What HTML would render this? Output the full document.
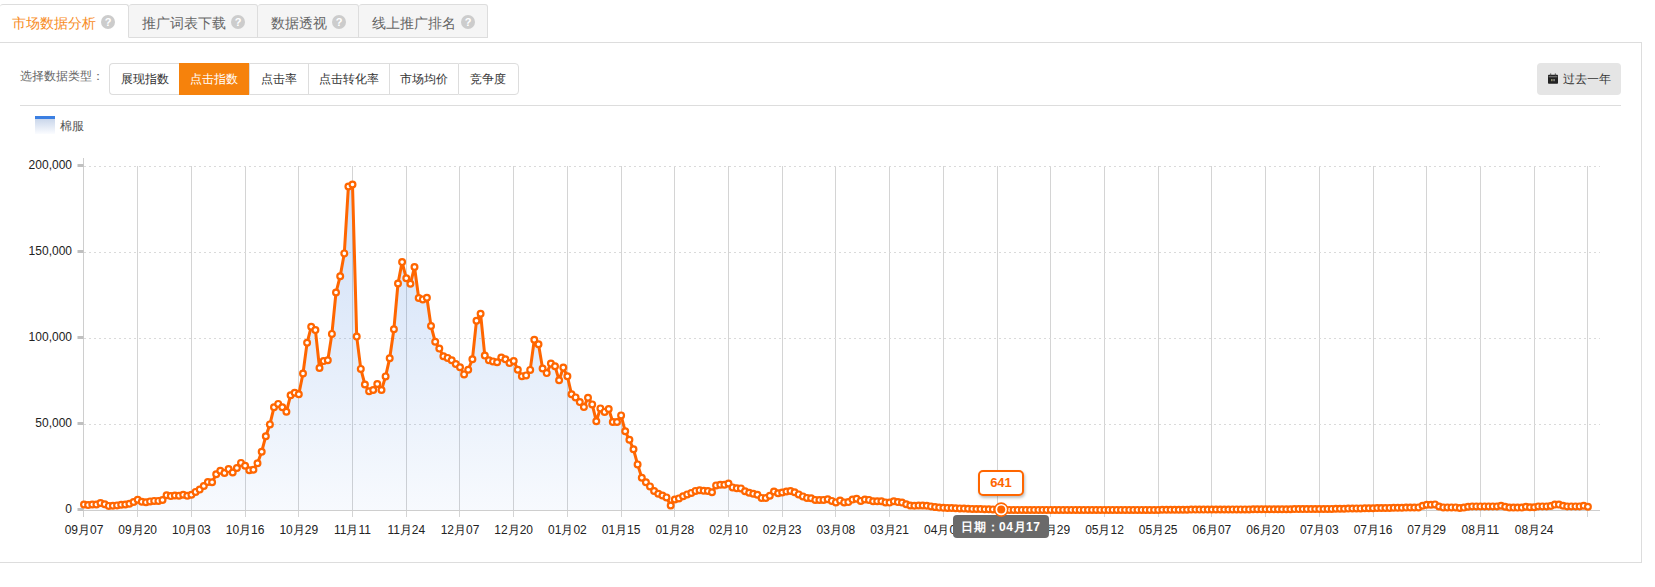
<!DOCTYPE html>
<html lang="zh">
<head>
<meta charset="utf-8">
<title>市场数据分析</title>
<style>
html,body{margin:0;padding:0;background:#fff;}
body{width:1655px;height:587px;position:relative;overflow:hidden;font-family:"Liberation Sans",sans-serif;color:#333;}
.tabs{position:absolute;left:0;top:4px;height:34px;display:flex;}
.tab{box-sizing:border-box;height:34px;border:1px solid #ddd;border-left:none;background:#f5f5f5;color:#666;font-size:14px;line-height:32px;padding:3px 12px 0 13px;display:flex;align-items:center;white-space:nowrap;border-radius:3px 3px 0 0;}
.tab.on{background:#fff;color:#f78c1e;border-bottom-color:#fff;padding-left:12px;padding-right:13px;}
.tab span.t{display:inline-block;}
.q{display:inline-block;width:14px;height:14px;border-radius:50%;background:#ccc;color:#fff;font-size:11px;font-weight:bold;line-height:15px;text-align:center;margin-left:5px;position:relative;top:-1px;}
.panel{position:absolute;left:-1px;top:42px;width:1641px;height:519px;border:1px solid #ddd;box-sizing:content-box;}
.lbl{position:absolute;left:20px;top:68px;font-size:12px;color:#666;line-height:16px;}
.grp{position:absolute;left:109px;top:63px;height:32px;display:flex;}
.grp div{box-sizing:border-box;height:32px;font-size:12px;line-height:30px;text-align:center;border:1px solid #ddd;border-right:none;color:#333;white-space:nowrap;background:#fff;}
.grp div:first-child{border-radius:4px 0 0 4px;}
.grp div:last-child{border-right:1px solid #ddd;border-radius:0 4px 4px 0;}
.grp div.on{background:#f6820c;color:#fff;border-color:#f6820c;}
.year{position:absolute;left:1537px;top:63px;width:84px;height:32px;background:#e5e5e5;border-radius:4px;font-size:12px;line-height:32px;color:#333;}
.year svg{position:absolute;left:11px;top:10px;}
.year span{position:absolute;left:26px;top:0;}
.hr{position:absolute;left:20px;top:105px;width:1601px;height:1px;background:#ddd;}
.legbox{position:absolute;left:35px;top:116px;width:20px;height:15px;border-top:3px solid #3b7fe2;background:linear-gradient(#cad7eb,#fbfcff);}
.legtxt{position:absolute;left:60px;top:118px;font-size:12px;line-height:16px;color:#555;}
svg.chart{position:absolute;left:0;top:0;}
.tip1{position:absolute;left:978px;top:470px;width:42px;height:22px;border:2px solid #f60;border-radius:5px;background:#fff;color:#f60;font-weight:bold;font-size:13px;line-height:22px;text-align:center;box-shadow:1px 2px 3px rgba(0,0,0,.25);}
.tip2{position:absolute;left:953px;top:515px;width:96px;height:23px;border-radius:4px;background:#6a6a6a;color:#fff;font-weight:bold;font-size:12px;line-height:25px;text-align:center;white-space:nowrap;letter-spacing:0.55px;}
</style>
</head>
<body>
<div class="panel"></div>
<div class="tabs">
  <div class="tab on"><span class="t">市场数据分析</span><span class="q">?</span></div>
  <div class="tab"><span class="t">推广词表下载</span><span class="q">?</span></div>
  <div class="tab"><span class="t">数据透视</span><span class="q">?</span></div>
  <div class="tab"><span class="t">线上推广排名</span><span class="q">?</span></div>
</div>
<div class="lbl">选择数据类型：</div>
<div class="grp"><div style="width:70px">展现指数</div><div class="on" style="width:69.5px">点击指数</div><div style="width:59.5px">点击率</div><div style="width:81px">点击转化率</div><div style="width:69px">市场均价</div><div style="width:60.5px">竞争度</div></div>
<div class="year"><svg width="10" height="11" viewBox="0 0 10 11"><rect x="0" y="1.8" width="10" height="9" rx="0.8" fill="#222"/><rect x="2.2" y="0.4" width="1" height="2" fill="#555"/><rect x="6.8" y="0.4" width="1" height="2" fill="#555"/><rect x="0.6" y="3.4" width="8.8" height="0.8" fill="#999"/><rect x="3" y="6" width="1.6" height="2.2" fill="#8a8a6a"/><rect x="5.2" y="6" width="1.8" height="2.2" fill="#777"/></svg><span>过去一年</span></div>
<div class="hr"></div>
<div class="legbox"></div><div class="legtxt">棉服</div>

<svg class="chart" width="1655" height="587" viewBox="0 0 1655 587">
<defs><linearGradient id="ag" x1="0" y1="166" x2="0" y2="510" gradientUnits="userSpaceOnUse"><stop offset="0" stop-color="#3f7fdf" stop-opacity="0.26"/><stop offset="1" stop-color="#3f7fdf" stop-opacity="0.04"/></linearGradient></defs>
<g stroke="#d4d4d4" stroke-width="1" fill="none"><path d="M137.5 166 V517"/><path d="M191.5 166 V517"/><path d="M245.5 166 V517"/><path d="M298.5 166 V517"/><path d="M352.5 166 V517"/><path d="M406.5 166 V517"/><path d="M459.5 166 V517"/><path d="M513.5 166 V517"/><path d="M567.5 166 V517"/><path d="M621.5 166 V517"/><path d="M674.5 166 V517"/><path d="M728.5 166 V517"/><path d="M782.5 166 V517"/><path d="M835.5 166 V517"/><path d="M889.5 166 V517"/><path d="M943.5 166 V517"/><path d="M997.5 166 V517"/><path d="M1050.5 166 V517"/><path d="M1104.5 166 V517"/><path d="M1158.5 166 V517"/><path d="M1211.5 166 V517"/><path d="M1265.5 166 V517"/><path d="M1319.5 166 V517"/><path d="M1373.5 166 V517"/><path d="M1426.5 166 V517"/><path d="M1480.5 166 V517"/><path d="M1534.5 166 V517"/><path d="M1587.5 166 V517"/></g>
<g stroke="#dadada" stroke-width="1" stroke-dasharray="2 3" fill="none"><path d="M84 166.5 H1600"/><path d="M84 252.5 H1600"/><path d="M84 338.5 H1600"/><path d="M84 424.5 H1600"/></g>
<path d="M83.5 158 V517" stroke="#cecece" stroke-width="1" fill="none"/>
<path d="M83 510.5 H1600" stroke="#cecece" stroke-width="1" fill="none"/>
<g fill="#c0c0c0"><rect x="77.5" y="164" width="6" height="3"/><rect x="77.5" y="250" width="6" height="3"/><rect x="77.5" y="336" width="6" height="3"/><rect x="77.5" y="422" width="6" height="3"/><rect x="77.5" y="508" width="6" height="3"/></g>
<g font-family="Liberation Sans, sans-serif" font-size="12" fill="#222" text-anchor="end"><text x="72" y="169">200,000</text><text x="72" y="255">150,000</text><text x="72" y="341">100,000</text><text x="72" y="427">50,000</text><text x="72" y="513">0</text></g>
<g font-family="Liberation Sans, sans-serif" font-size="12" fill="#222" text-anchor="middle"><text x="84.0" y="534">09月07</text><text x="137.7" y="534">09月20</text><text x="191.4" y="534">10月03</text><text x="245.1" y="534">10月16</text><text x="298.8" y="534">10月29</text><text x="352.5" y="534">11月11</text><text x="406.3" y="534">11月24</text><text x="460.0" y="534">12月07</text><text x="513.7" y="534">12月20</text><text x="567.4" y="534">01月02</text><text x="621.1" y="534">01月15</text><text x="674.8" y="534">01月28</text><text x="728.5" y="534">02月10</text><text x="782.2" y="534">02月23</text><text x="835.9" y="534">03月08</text><text x="889.6" y="534">03月21</text><text x="943.4" y="534">04月03</text><text x="997.1" y="534">04月16</text><text x="1050.8" y="534">04月29</text><text x="1104.5" y="534">05月12</text><text x="1158.2" y="534">05月25</text><text x="1211.9" y="534">06月07</text><text x="1265.6" y="534">06月20</text><text x="1319.3" y="534">07月03</text><text x="1373.0" y="534">07月16</text><text x="1426.7" y="534">07月29</text><text x="1480.4" y="534">08月11</text><text x="1534.2" y="534">08月24</text></g>
<path d="M84.0 504.5 L88.1 505.1 L92.3 504.5 L96.4 504.5 L100.5 503.1 L104.7 504.2 L108.8 505.9 L112.9 505.7 L117.1 505.4 L121.2 504.8 L125.3 504.5 L129.4 503.7 L133.6 502.0 L137.7 499.7 L141.8 501.7 L146.0 502.3 L150.1 501.4 L154.2 500.9 L158.4 500.9 L162.5 500.0 L166.6 495.3 L170.8 496.1 L174.9 495.5 L179.0 495.8 L183.2 494.7 L187.3 495.8 L191.4 494.7 L195.6 491.9 L199.7 489.6 L203.8 486.0 L207.9 482.0 L212.1 482.3 L216.2 474.2 L220.3 470.8 L224.5 473.0 L228.6 469.1 L232.7 472.5 L236.9 468.0 L241.0 462.9 L245.1 465.7 L249.3 470.2 L253.4 469.7 L257.5 463.2 L261.7 451.7 L265.8 436.2 L269.9 424.4 L274.0 407.3 L278.2 403.9 L282.3 407.2 L286.4 411.8 L290.6 395.2 L294.7 392.8 L298.8 394.3 L303.0 373.5 L307.1 342.8 L311.2 326.8 L315.4 330.1 L319.5 368.0 L323.6 361.1 L327.8 360.2 L331.9 333.9 L336.0 292.5 L340.2 276.2 L344.3 253.4 L348.4 186.5 L352.5 184.5 L356.7 336.6 L360.8 368.9 L364.9 384.5 L369.1 391.2 L373.2 390.0 L377.3 384.0 L381.5 390.0 L385.6 376.4 L389.7 358.2 L393.9 329.2 L398.0 283.5 L402.1 262.1 L406.3 278.3 L410.4 283.8 L414.5 267.0 L418.7 298.0 L422.8 299.4 L426.9 297.7 L431.0 326.0 L435.2 341.7 L439.3 348.6 L443.4 356.2 L447.6 357.9 L451.7 360.2 L455.8 364.0 L460.0 367.2 L464.1 374.4 L468.2 369.8 L472.4 359.3 L476.5 320.7 L480.6 313.8 L484.8 355.6 L488.9 360.2 L493.0 361.4 L497.1 362.2 L501.3 357.5 L505.4 359.2 L509.5 363.0 L513.7 361.0 L517.8 369.7 L521.9 376.3 L526.1 375.4 L530.2 369.9 L534.3 339.8 L538.5 344.2 L542.6 368.5 L546.7 373.1 L550.9 363.6 L555.0 366.2 L559.1 380.3 L563.3 367.6 L567.4 376.3 L571.5 394.2 L575.6 397.4 L579.8 402.1 L583.9 407.0 L588.0 397.7 L592.2 404.4 L596.3 421.2 L600.4 408.4 L604.6 411.9 L608.7 409.0 L612.8 422.0 L617.0 422.0 L621.1 415.4 L625.2 431.3 L629.4 439.8 L633.5 449.3 L637.6 464.4 L641.8 477.7 L645.9 482.3 L650.0 486.4 L654.1 491.0 L658.3 493.7 L662.4 495.5 L666.5 497.4 L670.7 505.5 L674.8 499.5 L678.9 498.4 L683.1 496.3 L687.2 494.4 L691.3 492.9 L695.5 490.9 L699.6 490.2 L703.7 490.8 L707.9 491.0 L712.0 492.2 L716.1 485.4 L720.3 484.8 L724.4 484.7 L728.5 483.5 L732.6 487.4 L736.8 488.3 L740.9 488.4 L745.0 491.2 L749.2 492.8 L753.3 493.8 L757.4 494.7 L761.6 497.9 L765.7 498.0 L769.8 495.7 L774.0 491.5 L778.1 493.2 L782.2 492.5 L786.4 491.5 L790.5 491.0 L794.6 492.3 L798.7 494.4 L802.9 496.4 L807.0 497.9 L811.1 498.3 L815.3 499.9 L819.4 500.0 L823.5 499.9 L827.7 499.2 L831.8 500.9 L835.9 502.4 L840.1 500.6 L844.2 502.4 L848.3 502.1 L852.5 499.6 L856.6 498.8 L860.7 500.9 L864.9 499.5 L869.0 499.9 L873.1 501.2 L877.2 501.3 L881.4 501.2 L885.5 502.4 L889.6 502.6 L893.8 501.3 L897.9 502.1 L902.0 502.6 L906.2 504.2 L910.3 505.5 L914.4 505.7 L918.6 505.5 L922.7 505.5 L926.8 505.7 L931.0 506.4 L935.1 507.1 L939.2 507.6 L943.4 507.7 L947.5 507.9 L951.6 508.0 L955.7 508.3 L959.9 508.4 L964.0 508.6 L968.1 508.8 L972.3 508.9 L976.4 509.0 L980.5 509.1 L984.7 509.2 L988.8 509.3 L992.9 509.4 L997.1 509.5 L1001.2 509.6 L1005.3 509.9 L1009.5 509.9 L1013.6 509.9 L1017.7 509.9 L1021.9 509.9 L1026.0 509.9 L1030.1 509.9 L1034.2 509.9 L1038.4 509.9 L1042.5 509.9 L1046.6 509.9 L1050.8 509.9 L1054.9 509.9 L1059.0 509.9 L1063.2 509.9 L1067.3 509.9 L1071.4 509.9 L1075.6 509.9 L1079.7 509.9 L1083.8 509.9 L1088.0 509.9 L1092.1 509.9 L1096.2 509.9 L1100.3 509.9 L1104.5 509.9 L1108.6 509.9 L1112.7 509.9 L1116.9 509.9 L1121.0 509.9 L1125.1 509.9 L1129.3 509.9 L1133.4 509.9 L1137.5 509.9 L1141.7 509.9 L1145.8 509.9 L1149.9 509.9 L1154.1 509.9 L1158.2 509.9 L1162.3 509.8 L1166.5 509.8 L1170.6 509.7 L1174.7 509.7 L1178.8 509.7 L1183.0 509.7 L1187.1 509.7 L1191.2 509.6 L1195.4 509.6 L1199.5 509.6 L1203.6 509.6 L1207.8 509.6 L1211.9 509.5 L1216.0 509.5 L1220.2 509.5 L1224.3 509.5 L1228.4 509.5 L1232.6 509.4 L1236.7 509.4 L1240.8 509.4 L1245.0 509.4 L1249.1 509.4 L1253.2 509.3 L1257.3 509.3 L1261.5 509.3 L1265.6 509.3 L1269.7 509.3 L1273.9 509.2 L1278.0 509.2 L1282.1 509.2 L1286.3 509.2 L1290.4 509.2 L1294.5 509.1 L1298.7 509.1 L1302.8 509.1 L1306.9 509.1 L1311.1 509.1 L1315.2 509.0 L1319.3 509.0 L1323.5 509.0 L1327.6 508.9 L1331.7 508.9 L1335.8 508.8 L1340.0 508.7 L1344.1 508.7 L1348.2 508.6 L1352.4 508.5 L1356.5 508.4 L1360.6 508.4 L1364.8 508.3 L1368.9 508.2 L1373.0 508.2 L1377.2 508.1 L1381.3 508.0 L1385.4 508.0 L1389.6 507.9 L1393.7 507.8 L1397.8 507.7 L1401.9 507.7 L1406.1 507.6 L1410.2 507.5 L1414.3 507.5 L1418.5 507.4 L1422.6 505.8 L1426.7 504.8 L1430.9 504.8 L1435.0 504.4 L1439.1 506.5 L1443.3 507.4 L1447.4 507.4 L1451.5 507.4 L1455.7 507.4 L1459.8 508.0 L1463.9 507.6 L1468.1 506.7 L1472.2 506.4 L1476.3 506.4 L1480.4 506.4 L1484.6 506.4 L1488.7 506.4 L1492.8 506.4 L1497.0 506.4 L1501.1 505.8 L1505.2 506.7 L1509.4 507.6 L1513.5 507.6 L1517.6 507.6 L1521.8 507.6 L1525.9 506.7 L1530.0 507.3 L1534.2 507.3 L1538.3 506.4 L1542.4 506.4 L1546.6 506.4 L1550.7 506.0 L1554.8 504.6 L1558.9 504.6 L1563.1 505.7 L1567.2 506.4 L1571.3 506.4 L1575.5 506.4 L1579.6 506.4 L1583.7 505.8 L1587.9 506.7 L1587.9 510.0 L84.0 510.0 Z" fill="url(#ag)" stroke="none"/>
<path d="M84.0 504.5 L88.1 505.1 L92.3 504.5 L96.4 504.5 L100.5 503.1 L104.7 504.2 L108.8 505.9 L112.9 505.7 L117.1 505.4 L121.2 504.8 L125.3 504.5 L129.4 503.7 L133.6 502.0 L137.7 499.7 L141.8 501.7 L146.0 502.3 L150.1 501.4 L154.2 500.9 L158.4 500.9 L162.5 500.0 L166.6 495.3 L170.8 496.1 L174.9 495.5 L179.0 495.8 L183.2 494.7 L187.3 495.8 L191.4 494.7 L195.6 491.9 L199.7 489.6 L203.8 486.0 L207.9 482.0 L212.1 482.3 L216.2 474.2 L220.3 470.8 L224.5 473.0 L228.6 469.1 L232.7 472.5 L236.9 468.0 L241.0 462.9 L245.1 465.7 L249.3 470.2 L253.4 469.7 L257.5 463.2 L261.7 451.7 L265.8 436.2 L269.9 424.4 L274.0 407.3 L278.2 403.9 L282.3 407.2 L286.4 411.8 L290.6 395.2 L294.7 392.8 L298.8 394.3 L303.0 373.5 L307.1 342.8 L311.2 326.8 L315.4 330.1 L319.5 368.0 L323.6 361.1 L327.8 360.2 L331.9 333.9 L336.0 292.5 L340.2 276.2 L344.3 253.4 L348.4 186.5 L352.5 184.5 L356.7 336.6 L360.8 368.9 L364.9 384.5 L369.1 391.2 L373.2 390.0 L377.3 384.0 L381.5 390.0 L385.6 376.4 L389.7 358.2 L393.9 329.2 L398.0 283.5 L402.1 262.1 L406.3 278.3 L410.4 283.8 L414.5 267.0 L418.7 298.0 L422.8 299.4 L426.9 297.7 L431.0 326.0 L435.2 341.7 L439.3 348.6 L443.4 356.2 L447.6 357.9 L451.7 360.2 L455.8 364.0 L460.0 367.2 L464.1 374.4 L468.2 369.8 L472.4 359.3 L476.5 320.7 L480.6 313.8 L484.8 355.6 L488.9 360.2 L493.0 361.4 L497.1 362.2 L501.3 357.5 L505.4 359.2 L509.5 363.0 L513.7 361.0 L517.8 369.7 L521.9 376.3 L526.1 375.4 L530.2 369.9 L534.3 339.8 L538.5 344.2 L542.6 368.5 L546.7 373.1 L550.9 363.6 L555.0 366.2 L559.1 380.3 L563.3 367.6 L567.4 376.3 L571.5 394.2 L575.6 397.4 L579.8 402.1 L583.9 407.0 L588.0 397.7 L592.2 404.4 L596.3 421.2 L600.4 408.4 L604.6 411.9 L608.7 409.0 L612.8 422.0 L617.0 422.0 L621.1 415.4 L625.2 431.3 L629.4 439.8 L633.5 449.3 L637.6 464.4 L641.8 477.7 L645.9 482.3 L650.0 486.4 L654.1 491.0 L658.3 493.7 L662.4 495.5 L666.5 497.4 L670.7 505.5 L674.8 499.5 L678.9 498.4 L683.1 496.3 L687.2 494.4 L691.3 492.9 L695.5 490.9 L699.6 490.2 L703.7 490.8 L707.9 491.0 L712.0 492.2 L716.1 485.4 L720.3 484.8 L724.4 484.7 L728.5 483.5 L732.6 487.4 L736.8 488.3 L740.9 488.4 L745.0 491.2 L749.2 492.8 L753.3 493.8 L757.4 494.7 L761.6 497.9 L765.7 498.0 L769.8 495.7 L774.0 491.5 L778.1 493.2 L782.2 492.5 L786.4 491.5 L790.5 491.0 L794.6 492.3 L798.7 494.4 L802.9 496.4 L807.0 497.9 L811.1 498.3 L815.3 499.9 L819.4 500.0 L823.5 499.9 L827.7 499.2 L831.8 500.9 L835.9 502.4 L840.1 500.6 L844.2 502.4 L848.3 502.1 L852.5 499.6 L856.6 498.8 L860.7 500.9 L864.9 499.5 L869.0 499.9 L873.1 501.2 L877.2 501.3 L881.4 501.2 L885.5 502.4 L889.6 502.6 L893.8 501.3 L897.9 502.1 L902.0 502.6 L906.2 504.2 L910.3 505.5 L914.4 505.7 L918.6 505.5 L922.7 505.5 L926.8 505.7 L931.0 506.4 L935.1 507.1 L939.2 507.6 L943.4 507.7 L947.5 507.9 L951.6 508.0 L955.7 508.3 L959.9 508.4 L964.0 508.6 L968.1 508.8 L972.3 508.9 L976.4 509.0 L980.5 509.1 L984.7 509.2 L988.8 509.3 L992.9 509.4 L997.1 509.5 L1001.2 509.6 L1005.3 509.9 L1009.5 509.9 L1013.6 509.9 L1017.7 509.9 L1021.9 509.9 L1026.0 509.9 L1030.1 509.9 L1034.2 509.9 L1038.4 509.9 L1042.5 509.9 L1046.6 509.9 L1050.8 509.9 L1054.9 509.9 L1059.0 509.9 L1063.2 509.9 L1067.3 509.9 L1071.4 509.9 L1075.6 509.9 L1079.7 509.9 L1083.8 509.9 L1088.0 509.9 L1092.1 509.9 L1096.2 509.9 L1100.3 509.9 L1104.5 509.9 L1108.6 509.9 L1112.7 509.9 L1116.9 509.9 L1121.0 509.9 L1125.1 509.9 L1129.3 509.9 L1133.4 509.9 L1137.5 509.9 L1141.7 509.9 L1145.8 509.9 L1149.9 509.9 L1154.1 509.9 L1158.2 509.9 L1162.3 509.8 L1166.5 509.8 L1170.6 509.7 L1174.7 509.7 L1178.8 509.7 L1183.0 509.7 L1187.1 509.7 L1191.2 509.6 L1195.4 509.6 L1199.5 509.6 L1203.6 509.6 L1207.8 509.6 L1211.9 509.5 L1216.0 509.5 L1220.2 509.5 L1224.3 509.5 L1228.4 509.5 L1232.6 509.4 L1236.7 509.4 L1240.8 509.4 L1245.0 509.4 L1249.1 509.4 L1253.2 509.3 L1257.3 509.3 L1261.5 509.3 L1265.6 509.3 L1269.7 509.3 L1273.9 509.2 L1278.0 509.2 L1282.1 509.2 L1286.3 509.2 L1290.4 509.2 L1294.5 509.1 L1298.7 509.1 L1302.8 509.1 L1306.9 509.1 L1311.1 509.1 L1315.2 509.0 L1319.3 509.0 L1323.5 509.0 L1327.6 508.9 L1331.7 508.9 L1335.8 508.8 L1340.0 508.7 L1344.1 508.7 L1348.2 508.6 L1352.4 508.5 L1356.5 508.4 L1360.6 508.4 L1364.8 508.3 L1368.9 508.2 L1373.0 508.2 L1377.2 508.1 L1381.3 508.0 L1385.4 508.0 L1389.6 507.9 L1393.7 507.8 L1397.8 507.7 L1401.9 507.7 L1406.1 507.6 L1410.2 507.5 L1414.3 507.5 L1418.5 507.4 L1422.6 505.8 L1426.7 504.8 L1430.9 504.8 L1435.0 504.4 L1439.1 506.5 L1443.3 507.4 L1447.4 507.4 L1451.5 507.4 L1455.7 507.4 L1459.8 508.0 L1463.9 507.6 L1468.1 506.7 L1472.2 506.4 L1476.3 506.4 L1480.4 506.4 L1484.6 506.4 L1488.7 506.4 L1492.8 506.4 L1497.0 506.4 L1501.1 505.8 L1505.2 506.7 L1509.4 507.6 L1513.5 507.6 L1517.6 507.6 L1521.8 507.6 L1525.9 506.7 L1530.0 507.3 L1534.2 507.3 L1538.3 506.4 L1542.4 506.4 L1546.6 506.4 L1550.7 506.0 L1554.8 504.6 L1558.9 504.6 L1563.1 505.7 L1567.2 506.4 L1571.3 506.4 L1575.5 506.4 L1579.6 506.4 L1583.7 505.8 L1587.9 506.7" fill="none" stroke="#ff6600" stroke-width="3" stroke-linejoin="round" stroke-linecap="round"/>
<g fill="#fff" stroke="#ff6600" stroke-width="2.2"><circle cx="84.0" cy="504.5" r="2.9"/><circle cx="88.1" cy="505.1" r="2.9"/><circle cx="92.3" cy="504.5" r="2.9"/><circle cx="96.4" cy="504.5" r="2.9"/><circle cx="100.5" cy="503.1" r="2.9"/><circle cx="104.7" cy="504.2" r="2.9"/><circle cx="108.8" cy="505.9" r="2.9"/><circle cx="112.9" cy="505.7" r="2.9"/><circle cx="117.1" cy="505.4" r="2.9"/><circle cx="121.2" cy="504.8" r="2.9"/><circle cx="125.3" cy="504.5" r="2.9"/><circle cx="129.4" cy="503.7" r="2.9"/><circle cx="133.6" cy="502.0" r="2.9"/><circle cx="137.7" cy="499.7" r="2.9"/><circle cx="141.8" cy="501.7" r="2.9"/><circle cx="146.0" cy="502.3" r="2.9"/><circle cx="150.1" cy="501.4" r="2.9"/><circle cx="154.2" cy="500.9" r="2.9"/><circle cx="158.4" cy="500.9" r="2.9"/><circle cx="162.5" cy="500.0" r="2.9"/><circle cx="166.6" cy="495.3" r="2.9"/><circle cx="170.8" cy="496.1" r="2.9"/><circle cx="174.9" cy="495.5" r="2.9"/><circle cx="179.0" cy="495.8" r="2.9"/><circle cx="183.2" cy="494.7" r="2.9"/><circle cx="187.3" cy="495.8" r="2.9"/><circle cx="191.4" cy="494.7" r="2.9"/><circle cx="195.6" cy="491.9" r="2.9"/><circle cx="199.7" cy="489.6" r="2.9"/><circle cx="203.8" cy="486.0" r="2.9"/><circle cx="207.9" cy="482.0" r="2.9"/><circle cx="212.1" cy="482.3" r="2.9"/><circle cx="216.2" cy="474.2" r="2.9"/><circle cx="220.3" cy="470.8" r="2.9"/><circle cx="224.5" cy="473.0" r="2.9"/><circle cx="228.6" cy="469.1" r="2.9"/><circle cx="232.7" cy="472.5" r="2.9"/><circle cx="236.9" cy="468.0" r="2.9"/><circle cx="241.0" cy="462.9" r="2.9"/><circle cx="245.1" cy="465.7" r="2.9"/><circle cx="249.3" cy="470.2" r="2.9"/><circle cx="253.4" cy="469.7" r="2.9"/><circle cx="257.5" cy="463.2" r="2.9"/><circle cx="261.7" cy="451.7" r="2.9"/><circle cx="265.8" cy="436.2" r="2.9"/><circle cx="269.9" cy="424.4" r="2.9"/><circle cx="274.0" cy="407.3" r="2.9"/><circle cx="278.2" cy="403.9" r="2.9"/><circle cx="282.3" cy="407.2" r="2.9"/><circle cx="286.4" cy="411.8" r="2.9"/><circle cx="290.6" cy="395.2" r="2.9"/><circle cx="294.7" cy="392.8" r="2.9"/><circle cx="298.8" cy="394.3" r="2.9"/><circle cx="303.0" cy="373.5" r="2.9"/><circle cx="307.1" cy="342.8" r="2.9"/><circle cx="311.2" cy="326.8" r="2.9"/><circle cx="315.4" cy="330.1" r="2.9"/><circle cx="319.5" cy="368.0" r="2.9"/><circle cx="323.6" cy="361.1" r="2.9"/><circle cx="327.8" cy="360.2" r="2.9"/><circle cx="331.9" cy="333.9" r="2.9"/><circle cx="336.0" cy="292.5" r="2.9"/><circle cx="340.2" cy="276.2" r="2.9"/><circle cx="344.3" cy="253.4" r="2.9"/><circle cx="348.4" cy="186.5" r="2.9"/><circle cx="352.5" cy="184.5" r="2.9"/><circle cx="356.7" cy="336.6" r="2.9"/><circle cx="360.8" cy="368.9" r="2.9"/><circle cx="364.9" cy="384.5" r="2.9"/><circle cx="369.1" cy="391.2" r="2.9"/><circle cx="373.2" cy="390.0" r="2.9"/><circle cx="377.3" cy="384.0" r="2.9"/><circle cx="381.5" cy="390.0" r="2.9"/><circle cx="385.6" cy="376.4" r="2.9"/><circle cx="389.7" cy="358.2" r="2.9"/><circle cx="393.9" cy="329.2" r="2.9"/><circle cx="398.0" cy="283.5" r="2.9"/><circle cx="402.1" cy="262.1" r="2.9"/><circle cx="406.3" cy="278.3" r="2.9"/><circle cx="410.4" cy="283.8" r="2.9"/><circle cx="414.5" cy="267.0" r="2.9"/><circle cx="418.7" cy="298.0" r="2.9"/><circle cx="422.8" cy="299.4" r="2.9"/><circle cx="426.9" cy="297.7" r="2.9"/><circle cx="431.0" cy="326.0" r="2.9"/><circle cx="435.2" cy="341.7" r="2.9"/><circle cx="439.3" cy="348.6" r="2.9"/><circle cx="443.4" cy="356.2" r="2.9"/><circle cx="447.6" cy="357.9" r="2.9"/><circle cx="451.7" cy="360.2" r="2.9"/><circle cx="455.8" cy="364.0" r="2.9"/><circle cx="460.0" cy="367.2" r="2.9"/><circle cx="464.1" cy="374.4" r="2.9"/><circle cx="468.2" cy="369.8" r="2.9"/><circle cx="472.4" cy="359.3" r="2.9"/><circle cx="476.5" cy="320.7" r="2.9"/><circle cx="480.6" cy="313.8" r="2.9"/><circle cx="484.8" cy="355.6" r="2.9"/><circle cx="488.9" cy="360.2" r="2.9"/><circle cx="493.0" cy="361.4" r="2.9"/><circle cx="497.1" cy="362.2" r="2.9"/><circle cx="501.3" cy="357.5" r="2.9"/><circle cx="505.4" cy="359.2" r="2.9"/><circle cx="509.5" cy="363.0" r="2.9"/><circle cx="513.7" cy="361.0" r="2.9"/><circle cx="517.8" cy="369.7" r="2.9"/><circle cx="521.9" cy="376.3" r="2.9"/><circle cx="526.1" cy="375.4" r="2.9"/><circle cx="530.2" cy="369.9" r="2.9"/><circle cx="534.3" cy="339.8" r="2.9"/><circle cx="538.5" cy="344.2" r="2.9"/><circle cx="542.6" cy="368.5" r="2.9"/><circle cx="546.7" cy="373.1" r="2.9"/><circle cx="550.9" cy="363.6" r="2.9"/><circle cx="555.0" cy="366.2" r="2.9"/><circle cx="559.1" cy="380.3" r="2.9"/><circle cx="563.3" cy="367.6" r="2.9"/><circle cx="567.4" cy="376.3" r="2.9"/><circle cx="571.5" cy="394.2" r="2.9"/><circle cx="575.6" cy="397.4" r="2.9"/><circle cx="579.8" cy="402.1" r="2.9"/><circle cx="583.9" cy="407.0" r="2.9"/><circle cx="588.0" cy="397.7" r="2.9"/><circle cx="592.2" cy="404.4" r="2.9"/><circle cx="596.3" cy="421.2" r="2.9"/><circle cx="600.4" cy="408.4" r="2.9"/><circle cx="604.6" cy="411.9" r="2.9"/><circle cx="608.7" cy="409.0" r="2.9"/><circle cx="612.8" cy="422.0" r="2.9"/><circle cx="617.0" cy="422.0" r="2.9"/><circle cx="621.1" cy="415.4" r="2.9"/><circle cx="625.2" cy="431.3" r="2.9"/><circle cx="629.4" cy="439.8" r="2.9"/><circle cx="633.5" cy="449.3" r="2.9"/><circle cx="637.6" cy="464.4" r="2.9"/><circle cx="641.8" cy="477.7" r="2.9"/><circle cx="645.9" cy="482.3" r="2.9"/><circle cx="650.0" cy="486.4" r="2.9"/><circle cx="654.1" cy="491.0" r="2.9"/><circle cx="658.3" cy="493.7" r="2.9"/><circle cx="662.4" cy="495.5" r="2.9"/><circle cx="666.5" cy="497.4" r="2.9"/><circle cx="670.7" cy="505.5" r="2.9"/><circle cx="674.8" cy="499.5" r="2.9"/><circle cx="678.9" cy="498.4" r="2.9"/><circle cx="683.1" cy="496.3" r="2.9"/><circle cx="687.2" cy="494.4" r="2.9"/><circle cx="691.3" cy="492.9" r="2.9"/><circle cx="695.5" cy="490.9" r="2.9"/><circle cx="699.6" cy="490.2" r="2.9"/><circle cx="703.7" cy="490.8" r="2.9"/><circle cx="707.9" cy="491.0" r="2.9"/><circle cx="712.0" cy="492.2" r="2.9"/><circle cx="716.1" cy="485.4" r="2.9"/><circle cx="720.3" cy="484.8" r="2.9"/><circle cx="724.4" cy="484.7" r="2.9"/><circle cx="728.5" cy="483.5" r="2.9"/><circle cx="732.6" cy="487.4" r="2.9"/><circle cx="736.8" cy="488.3" r="2.9"/><circle cx="740.9" cy="488.4" r="2.9"/><circle cx="745.0" cy="491.2" r="2.9"/><circle cx="749.2" cy="492.8" r="2.9"/><circle cx="753.3" cy="493.8" r="2.9"/><circle cx="757.4" cy="494.7" r="2.9"/><circle cx="761.6" cy="497.9" r="2.9"/><circle cx="765.7" cy="498.0" r="2.9"/><circle cx="769.8" cy="495.7" r="2.9"/><circle cx="774.0" cy="491.5" r="2.9"/><circle cx="778.1" cy="493.2" r="2.9"/><circle cx="782.2" cy="492.5" r="2.9"/><circle cx="786.4" cy="491.5" r="2.9"/><circle cx="790.5" cy="491.0" r="2.9"/><circle cx="794.6" cy="492.3" r="2.9"/><circle cx="798.7" cy="494.4" r="2.9"/><circle cx="802.9" cy="496.4" r="2.9"/><circle cx="807.0" cy="497.9" r="2.9"/><circle cx="811.1" cy="498.3" r="2.9"/><circle cx="815.3" cy="499.9" r="2.9"/><circle cx="819.4" cy="500.0" r="2.9"/><circle cx="823.5" cy="499.9" r="2.9"/><circle cx="827.7" cy="499.2" r="2.9"/><circle cx="831.8" cy="500.9" r="2.9"/><circle cx="835.9" cy="502.4" r="2.9"/><circle cx="840.1" cy="500.6" r="2.9"/><circle cx="844.2" cy="502.4" r="2.9"/><circle cx="848.3" cy="502.1" r="2.9"/><circle cx="852.5" cy="499.6" r="2.9"/><circle cx="856.6" cy="498.8" r="2.9"/><circle cx="860.7" cy="500.9" r="2.9"/><circle cx="864.9" cy="499.5" r="2.9"/><circle cx="869.0" cy="499.9" r="2.9"/><circle cx="873.1" cy="501.2" r="2.9"/><circle cx="877.2" cy="501.3" r="2.9"/><circle cx="881.4" cy="501.2" r="2.9"/><circle cx="885.5" cy="502.4" r="2.9"/><circle cx="889.6" cy="502.6" r="2.9"/><circle cx="893.8" cy="501.3" r="2.9"/><circle cx="897.9" cy="502.1" r="2.9"/><circle cx="902.0" cy="502.6" r="2.9"/><circle cx="906.2" cy="504.2" r="2.9"/><circle cx="910.3" cy="505.5" r="2.9"/><circle cx="914.4" cy="505.7" r="2.9"/><circle cx="918.6" cy="505.5" r="2.9"/><circle cx="922.7" cy="505.5" r="2.9"/><circle cx="926.8" cy="505.7" r="2.9"/><circle cx="931.0" cy="506.4" r="2.9"/><circle cx="935.1" cy="507.1" r="2.9"/><circle cx="939.2" cy="507.6" r="2.9"/><circle cx="943.4" cy="507.7" r="2.9"/><circle cx="947.5" cy="507.9" r="2.9"/><circle cx="951.6" cy="508.0" r="2.9"/><circle cx="955.7" cy="508.3" r="2.9"/><circle cx="959.9" cy="508.4" r="2.9"/><circle cx="964.0" cy="508.6" r="2.9"/><circle cx="968.1" cy="508.8" r="2.9"/><circle cx="972.3" cy="508.9" r="2.9"/><circle cx="976.4" cy="509.0" r="2.9"/><circle cx="980.5" cy="509.1" r="2.9"/><circle cx="984.7" cy="509.2" r="2.9"/><circle cx="988.8" cy="509.3" r="2.9"/><circle cx="992.9" cy="509.4" r="2.9"/><circle cx="997.1" cy="509.5" r="2.9"/><circle cx="1001.2" cy="509.6" r="2.9"/><circle cx="1005.3" cy="509.9" r="2.9"/><circle cx="1009.5" cy="509.9" r="2.9"/><circle cx="1013.6" cy="509.9" r="2.9"/><circle cx="1017.7" cy="509.9" r="2.9"/><circle cx="1021.9" cy="509.9" r="2.9"/><circle cx="1026.0" cy="509.9" r="2.9"/><circle cx="1030.1" cy="509.9" r="2.9"/><circle cx="1034.2" cy="509.9" r="2.9"/><circle cx="1038.4" cy="509.9" r="2.9"/><circle cx="1042.5" cy="509.9" r="2.9"/><circle cx="1046.6" cy="509.9" r="2.9"/><circle cx="1050.8" cy="509.9" r="2.9"/><circle cx="1054.9" cy="509.9" r="2.9"/><circle cx="1059.0" cy="509.9" r="2.9"/><circle cx="1063.2" cy="509.9" r="2.9"/><circle cx="1067.3" cy="509.9" r="2.9"/><circle cx="1071.4" cy="509.9" r="2.9"/><circle cx="1075.6" cy="509.9" r="2.9"/><circle cx="1079.7" cy="509.9" r="2.9"/><circle cx="1083.8" cy="509.9" r="2.9"/><circle cx="1088.0" cy="509.9" r="2.9"/><circle cx="1092.1" cy="509.9" r="2.9"/><circle cx="1096.2" cy="509.9" r="2.9"/><circle cx="1100.3" cy="509.9" r="2.9"/><circle cx="1104.5" cy="509.9" r="2.9"/><circle cx="1108.6" cy="509.9" r="2.9"/><circle cx="1112.7" cy="509.9" r="2.9"/><circle cx="1116.9" cy="509.9" r="2.9"/><circle cx="1121.0" cy="509.9" r="2.9"/><circle cx="1125.1" cy="509.9" r="2.9"/><circle cx="1129.3" cy="509.9" r="2.9"/><circle cx="1133.4" cy="509.9" r="2.9"/><circle cx="1137.5" cy="509.9" r="2.9"/><circle cx="1141.7" cy="509.9" r="2.9"/><circle cx="1145.8" cy="509.9" r="2.9"/><circle cx="1149.9" cy="509.9" r="2.9"/><circle cx="1154.1" cy="509.9" r="2.9"/><circle cx="1158.2" cy="509.9" r="2.9"/><circle cx="1162.3" cy="509.8" r="2.9"/><circle cx="1166.5" cy="509.8" r="2.9"/><circle cx="1170.6" cy="509.7" r="2.9"/><circle cx="1174.7" cy="509.7" r="2.9"/><circle cx="1178.8" cy="509.7" r="2.9"/><circle cx="1183.0" cy="509.7" r="2.9"/><circle cx="1187.1" cy="509.7" r="2.9"/><circle cx="1191.2" cy="509.6" r="2.9"/><circle cx="1195.4" cy="509.6" r="2.9"/><circle cx="1199.5" cy="509.6" r="2.9"/><circle cx="1203.6" cy="509.6" r="2.9"/><circle cx="1207.8" cy="509.6" r="2.9"/><circle cx="1211.9" cy="509.5" r="2.9"/><circle cx="1216.0" cy="509.5" r="2.9"/><circle cx="1220.2" cy="509.5" r="2.9"/><circle cx="1224.3" cy="509.5" r="2.9"/><circle cx="1228.4" cy="509.5" r="2.9"/><circle cx="1232.6" cy="509.4" r="2.9"/><circle cx="1236.7" cy="509.4" r="2.9"/><circle cx="1240.8" cy="509.4" r="2.9"/><circle cx="1245.0" cy="509.4" r="2.9"/><circle cx="1249.1" cy="509.4" r="2.9"/><circle cx="1253.2" cy="509.3" r="2.9"/><circle cx="1257.3" cy="509.3" r="2.9"/><circle cx="1261.5" cy="509.3" r="2.9"/><circle cx="1265.6" cy="509.3" r="2.9"/><circle cx="1269.7" cy="509.3" r="2.9"/><circle cx="1273.9" cy="509.2" r="2.9"/><circle cx="1278.0" cy="509.2" r="2.9"/><circle cx="1282.1" cy="509.2" r="2.9"/><circle cx="1286.3" cy="509.2" r="2.9"/><circle cx="1290.4" cy="509.2" r="2.9"/><circle cx="1294.5" cy="509.1" r="2.9"/><circle cx="1298.7" cy="509.1" r="2.9"/><circle cx="1302.8" cy="509.1" r="2.9"/><circle cx="1306.9" cy="509.1" r="2.9"/><circle cx="1311.1" cy="509.1" r="2.9"/><circle cx="1315.2" cy="509.0" r="2.9"/><circle cx="1319.3" cy="509.0" r="2.9"/><circle cx="1323.5" cy="509.0" r="2.9"/><circle cx="1327.6" cy="508.9" r="2.9"/><circle cx="1331.7" cy="508.9" r="2.9"/><circle cx="1335.8" cy="508.8" r="2.9"/><circle cx="1340.0" cy="508.7" r="2.9"/><circle cx="1344.1" cy="508.7" r="2.9"/><circle cx="1348.2" cy="508.6" r="2.9"/><circle cx="1352.4" cy="508.5" r="2.9"/><circle cx="1356.5" cy="508.4" r="2.9"/><circle cx="1360.6" cy="508.4" r="2.9"/><circle cx="1364.8" cy="508.3" r="2.9"/><circle cx="1368.9" cy="508.2" r="2.9"/><circle cx="1373.0" cy="508.2" r="2.9"/><circle cx="1377.2" cy="508.1" r="2.9"/><circle cx="1381.3" cy="508.0" r="2.9"/><circle cx="1385.4" cy="508.0" r="2.9"/><circle cx="1389.6" cy="507.9" r="2.9"/><circle cx="1393.7" cy="507.8" r="2.9"/><circle cx="1397.8" cy="507.7" r="2.9"/><circle cx="1401.9" cy="507.7" r="2.9"/><circle cx="1406.1" cy="507.6" r="2.9"/><circle cx="1410.2" cy="507.5" r="2.9"/><circle cx="1414.3" cy="507.5" r="2.9"/><circle cx="1418.5" cy="507.4" r="2.9"/><circle cx="1422.6" cy="505.8" r="2.9"/><circle cx="1426.7" cy="504.8" r="2.9"/><circle cx="1430.9" cy="504.8" r="2.9"/><circle cx="1435.0" cy="504.4" r="2.9"/><circle cx="1439.1" cy="506.5" r="2.9"/><circle cx="1443.3" cy="507.4" r="2.9"/><circle cx="1447.4" cy="507.4" r="2.9"/><circle cx="1451.5" cy="507.4" r="2.9"/><circle cx="1455.7" cy="507.4" r="2.9"/><circle cx="1459.8" cy="508.0" r="2.9"/><circle cx="1463.9" cy="507.6" r="2.9"/><circle cx="1468.1" cy="506.7" r="2.9"/><circle cx="1472.2" cy="506.4" r="2.9"/><circle cx="1476.3" cy="506.4" r="2.9"/><circle cx="1480.4" cy="506.4" r="2.9"/><circle cx="1484.6" cy="506.4" r="2.9"/><circle cx="1488.7" cy="506.4" r="2.9"/><circle cx="1492.8" cy="506.4" r="2.9"/><circle cx="1497.0" cy="506.4" r="2.9"/><circle cx="1501.1" cy="505.8" r="2.9"/><circle cx="1505.2" cy="506.7" r="2.9"/><circle cx="1509.4" cy="507.6" r="2.9"/><circle cx="1513.5" cy="507.6" r="2.9"/><circle cx="1517.6" cy="507.6" r="2.9"/><circle cx="1521.8" cy="507.6" r="2.9"/><circle cx="1525.9" cy="506.7" r="2.9"/><circle cx="1530.0" cy="507.3" r="2.9"/><circle cx="1534.2" cy="507.3" r="2.9"/><circle cx="1538.3" cy="506.4" r="2.9"/><circle cx="1542.4" cy="506.4" r="2.9"/><circle cx="1546.6" cy="506.4" r="2.9"/><circle cx="1550.7" cy="506.0" r="2.9"/><circle cx="1554.8" cy="504.6" r="2.9"/><circle cx="1558.9" cy="504.6" r="2.9"/><circle cx="1563.1" cy="505.7" r="2.9"/><circle cx="1567.2" cy="506.4" r="2.9"/><circle cx="1571.3" cy="506.4" r="2.9"/><circle cx="1575.5" cy="506.4" r="2.9"/><circle cx="1579.6" cy="506.4" r="2.9"/><circle cx="1583.7" cy="505.8" r="2.9"/><circle cx="1587.9" cy="506.7" r="2.9"/></g>
</svg>
<div class="tip2">日期：04月17</div>
<svg class="chart" width="1655" height="587" viewBox="0 0 1655 587">
<circle cx="1001.2" cy="509.6" r="6.5" fill="#fff" stroke="#ff6600" stroke-width="1.6"/>
<circle cx="1001.2" cy="509.6" r="4" fill="#ff6600"/>
</svg>
<div class="tip1">641</div>
</body>
</html>
